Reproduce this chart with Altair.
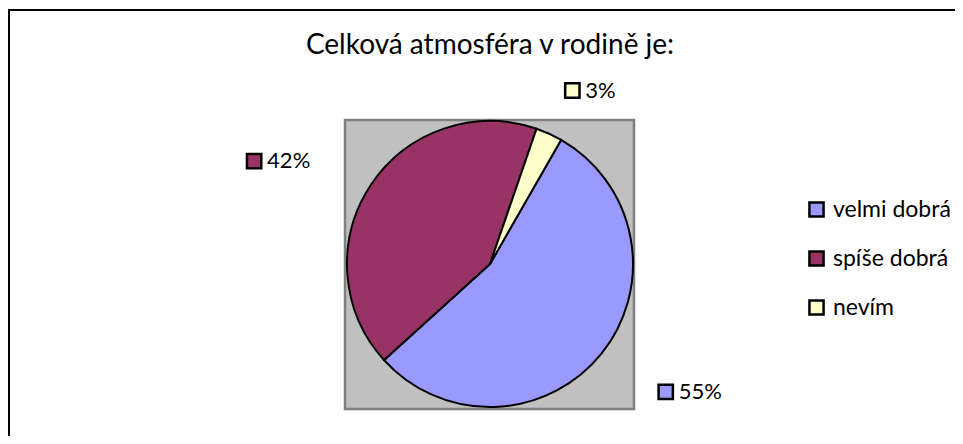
import altair as alt
import pandas as pd
import numpy as np

# ---- data ----
categories = ["velmi dobrá", "spíše dobrá", "nevím"]
percent = [55, 42, 3]
colors = ["#9999FF", "#993366", "#FFFFCC"]
title_text = "Celková atmosféra v rodině je:"

# ---- layout constants (view coordinates) ----
START_DEG = 29.8          # first slice starts here, clockwise from 12 o'clock
CX, CY = 482, 256         # pie centre
R = 143                   # pie radius
RX_LAB, RY_LAB = 224, 196 # label ellipse
LAB_DY = 5
LAB_W = 62
FONT = "Lato"

df = pd.DataFrame({"cat": categories, "pct": percent, "order": list(range(len(categories)))})
total = df["pct"].sum()
cum = df["pct"].cumsum()
mid = START_DEG + (cum - df["pct"] / 2) / total * 360
s = np.sin(np.radians(mid))
c = np.cos(np.radians(mid))
df["lx"] = CX + RX_LAB * s - (1 - s) / 2 * LAB_W
df["ly"] = CY - RY_LAB * c + LAB_DY
df["sx"] = df["lx"] + 8
df["tx"] = df["lx"] + 21
df["label"] = df["pct"].astype(str) + "%"

start_rad = np.radians(START_DEG)
cscale = alt.Scale(domain=categories, range=colors)

one = pd.DataFrame({"a": [0]})

frame = alt.Chart(one).mark_rect(fillOpacity=0, stroke="black", strokeWidth=2).encode(
    x=alt.value(1), x2=alt.value(1400), y=alt.value(2), y2=alt.value(1400)
)

plot_bg = alt.Chart(one).mark_rect(fill="#C0C0C0", stroke="#808080", strokeWidth=2.5).encode(
    x=alt.value(337), x2=alt.value(626), y=alt.value(112), y2=alt.value(401)
)

pie = alt.Chart(df).mark_arc(radius=R, stroke="black", strokeWidth=2).encode(
    theta=alt.Theta("pct:Q", stack=True,
                    scale=alt.Scale(range=[float(start_rad), float(start_rad + 2 * np.pi)])),
    order=alt.Order("order:Q"),
    color=alt.Color("cat:N", scale=cscale, sort=categories,
                    legend=alt.Legend(title=None, orient="none", legendX=797, legendY=190,
                                      symbolType="square", symbolSize=200,
                                      symbolStrokeColor="black", symbolStrokeWidth=2.5,
                                      symbolOpacity=1,
                                      labelFont=FONT, labelFontSize=23, labelColor="black",
                                      labelOffset=5, rowPadding=24)),
    x=alt.value(CX), y=alt.value(CY),
)

squares = alt.Chart(df).mark_square(size=205, filled=True, opacity=1, stroke="black", strokeWidth=2.5).encode(
    x=alt.X("sx:Q", scale=None),
    y=alt.Y("ly:Q", scale=None),
    color=alt.Color("cat:N", scale=cscale, legend=None),
)

labels = alt.Chart(df).mark_text(align="left", baseline="middle", font=FONT, fontSize=22, color="black").encode(
    x=alt.X("tx:Q", scale=None),
    y=alt.Y("ly:Q", scale=None),
    text="label:N",
)

title = alt.Chart(pd.DataFrame({"t": [title_text]})).mark_text(
    align="center", baseline="alphabetic", font=FONT, fontSize=28, color="black"
).encode(x=alt.value(482), y=alt.value(46), text="t:N")

chart = alt.layer(frame, plot_bg, pie, squares, labels, title).properties(
    width=947, height=428, padding=0, autosize=alt.AutoSizeParams(type="none"),
    background="white",
).configure_view(stroke=None)

chart.save("out.html", embed_options={"renderer": "svg", "actions": False})
